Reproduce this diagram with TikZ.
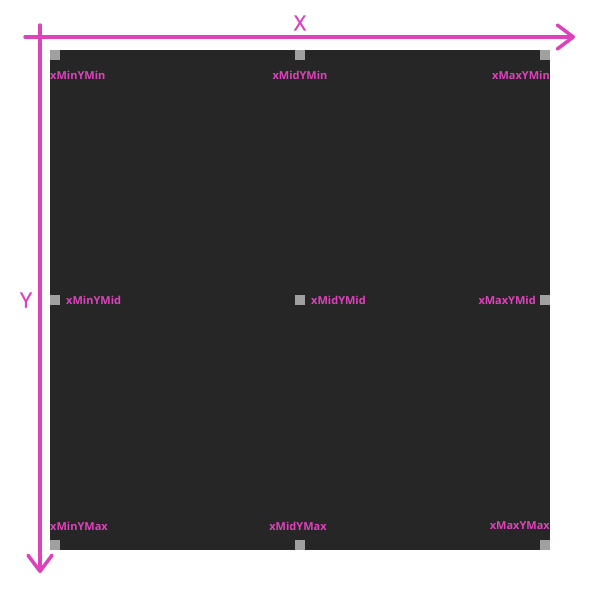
\documentclass[tikz,border=0pt]{standalone}
\usepackage{fontspec}
\setmainfont{Open Sans}
\newfontfamily\axfont[FakeBold=1.2]{Open Sans}
\usetikzlibrary{arrows.meta}
\definecolor{mag}{RGB}{221,66,187}
\definecolor{dark}{RGB}{38,38,38}
\definecolor{sq}{RGB}{160,160,160}
\begin{document}
\begin{tikzpicture}[x=1pt,y=-1pt,
  lbl/.style={text=mag,font=\bfseries\fontsize{11}{12}\selectfont,inner sep=0pt},
  axis/.style={draw=mag,line width=3.5pt,line cap=round,-{Straight Barb[length=16pt,width=24pt,line width=3.5pt,round]}},
  axlbl/.style={text=mag,font=\axfont\fontsize{21}{22}\selectfont,inner sep=0pt},
  pt/.style={fill=sq}]
\useasboundingbox (0,0) rectangle (600,600);
\fill[dark] (50,50) rectangle (550,550);
% squares
\fill[pt] (50,50) rectangle (60,60);
\fill[pt] (295,50) rectangle (305,60);
\fill[pt] (540,50) rectangle (550,60);
\fill[pt] (50,295) rectangle (60,305);
\fill[pt] (295,295) rectangle (305,305);
\fill[pt] (540,295) rectangle (550,305);
\fill[pt] (50,540) rectangle (60,550);
\fill[pt] (295,540) rectangle (305,550);
\fill[pt] (540,540) rectangle (550,550);
% axes
\coordinate (xs) at (25,37);
\coordinate (xe) at (575,37);
\coordinate (ys) at (40,25);
\coordinate (ye) at (40,573);
\draw[axis] (xs) -- (xe);
\draw[axis] (ys) -- (ye);
\node[axlbl] (X) at (300,23) {X};
\node[axlbl] (Y) at (26,300) {Y};
% labels
\node[lbl,anchor=west] (a) at (50,75) {xMinYMin};
\node[lbl] (b) at (300,75) {xMidYMin};
\node[lbl,anchor=east] (c) at (550,75) {xMaxYMin};
\node[lbl,anchor=west] (d) at (66,300) {xMinYMid};
\node[lbl,anchor=west] (e) at (311,300) {xMidYMid};
\node[lbl,anchor=east] (f) at (536,300) {xMaxYMid};
\node[lbl,anchor=west] (g) at (50,526) {xMinYMax};
\node[lbl] (h) at (298,526) {xMidYMax};
\node[lbl,anchor=east] (i) at (550,526) {xMaxYMax};
\end{tikzpicture}
\end{document}
